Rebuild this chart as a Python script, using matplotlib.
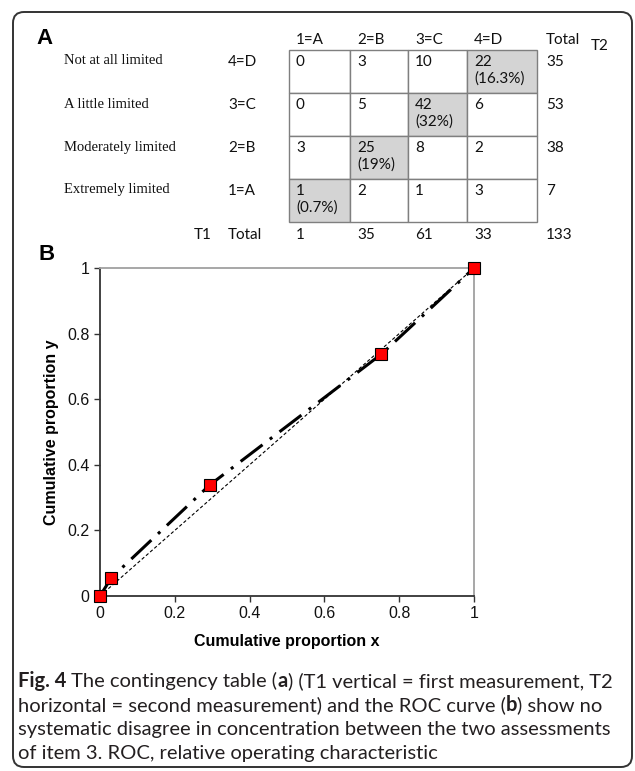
import matplotlib
matplotlib.use("Agg")
import matplotlib.pyplot as plt
from matplotlib.patches import FancyBboxPatch, Rectangle
import numpy as np

# === data ===
row_names = ["Not at all limited", "A little limited", "Moderately limited", "Extremely limited"]
row_codes = ["4=D", "3=C", "2=B", "1=A"]
col_codes = ["1=A", "2=B", "3=C", "4=D"]
counts = [
    [0, 3, 10, 22],
    [0, 5, 42, 6],
    [3, 25, 8, 2],
    [1, 2, 1, 3],
]
# diagonal cells (row, col) -> percentage text
diag_pct = {(0, 3): "(16.3%)", (1, 2): "(32%)", (2, 1): "(19%)", (3, 0): "(0.7%)"}
row_totals = [35, 53, 38, 7]
col_totals = [1, 35, 61, 33]
grand_total = 133

roc_x = [0.0, 0.03, 0.293, 0.752, 1.0]
roc_y = [0.0, 0.055, 0.338, 0.737, 1.0]
ticks = [0, 0.2, 0.4, 0.6, 0.8, 1]
tick_labels = ["0", "0.2", "0.4", "0.6", "0.8", "1"]

caption = [
    [("Fig. 4", True), (" The contingency table (", False), ("a", True),
     (") (T1 vertical = first measurement, T2", False)],
    [("horizontal = second measurement) and the ROC curve (", False), ("b", True),
     (") show no", False)],
    [("systematic disagree in concentration between the two assessments", False)],
    [("of item 3. ROC, relative operating characteristic", False)],
]

W, H = 635, 771
fig = plt.figure(figsize=(W / 100, H / 100), dpi=100)

# 픽셀 좌표 오버레이 (표, 글자, 테두리)
ov = fig.add_axes([0, 0, 1, 1])
ov.set_xlim(0, W)
ov.set_ylim(H, 0)
ov.axis("off")

ov.add_patch(FancyBboxPatch((13, 12), 619, 755, boxstyle="round,pad=0,rounding_size=11",
                            fill=False, edgecolor="#333333", linewidth=1.4))

ov.text(36, 39, "A", fontsize=16, fontweight="bold", family="Liberation Sans", va="center")
ov.text(38, 255, "B", fontsize=16, fontweight="bold", family="Liberation Sans", va="center")

# --- 표 ---
col_edges = [289, 350, 408, 467, 537]
row_edges = [50, 93, 136, 179, 222]
num_font = dict(family="Lato", fontsize=11, color="#111111", va="center")
serif_font = dict(family="Liberation Serif", fontsize=10.5, color="#111111", va="center")

for j, lab in enumerate(col_codes):
    ov.text(col_edges[j] + 7, 40, lab, **num_font)
ov.text(546, 40, "Total", **num_font)
ov.text(591, 46, "T2", **num_font)

for i in range(4):
    top, bot = row_edges[i], row_edges[i + 1]
    ov.text(64, top + 11, row_names[i], **serif_font)
    ov.text(228, top + 12, row_codes[i], **num_font)
    for j in range(4):
        left, right = col_edges[j], col_edges[j + 1]
        pct = diag_pct.get((i, j))
        ov.add_patch(Rectangle((left, top), right - left, bot - top,
                               facecolor="#d4d4d4" if pct else "white",
                               edgecolor="#7f7f7f", linewidth=1.0))
        ov.text(left + 7, top + 12, str(counts[i][j]), **num_font)
        if pct:
            ov.text(left + 7, top + 29, pct, **num_font)
    ov.text(546, top + 12, str(row_totals[i]), **num_font)

ov.text(194, 235, "T1", **num_font)
ov.text(228, 235, "Total", **num_font)
for j, v in enumerate(col_totals):
    ov.text(col_edges[j] + 7, 235, str(v), **num_font)
ov.text(546, 235, str(grand_total), **num_font)

# --- ROC ---
ax_l, ax_r, ax_t, ax_b = 100, 474, 268, 596
ax = fig.add_axes([ax_l / W, 1 - ax_b / H, (ax_r - ax_l) / W, (ax_b - ax_t) / H])
ax.plot([0, 1], [0, 1], color="black", linewidth=0.8, linestyle=(0, (3, 2)), zorder=2)
ax.plot(roc_x, roc_y, color="black", linewidth=2.2, linestyle=(0, (9, 3, 1, 3)), zorder=3)
ax.plot(roc_x, roc_y, linestyle="none", marker="s", markersize=8.5,
        markerfacecolor="red", markeredgecolor="black", markeredgewidth=0.8, zorder=4,
        clip_on=False)
ax.set_xlim(0, 1)
ax.set_ylim(0, 1)
ax.set_xticks(ticks)
ax.set_xticklabels(tick_labels)
ax.set_yticks(ticks)
ax.set_yticklabels(tick_labels)
for side in ["top", "right"]:
    ax.spines[side].set_color("#a0a0a0")
    ax.spines[side].set_linewidth(1.3)
for side in ["left", "bottom"]:
    ax.spines[side].set_color("#333333")
    ax.spines[side].set_linewidth(1.3)
ax.tick_params(direction="out", length=4, width=1, color="#333333",
               labelsize=11.5, labelcolor="#111111")
for lab in ax.get_xticklabels() + ax.get_yticklabels():
    lab.set_family("Liberation Sans")
ax.set_xlabel("Cumulative proportion x", fontsize=11.5, fontweight="bold",
              family="Liberation Sans", labelpad=9)
ax.set_ylabel("Cumulative proportion y", fontsize=11.5, fontweight="bold",
              family="Liberation Sans", labelpad=6)

# --- 캡션 (굵은 글씨 섞어서) ---
fig.canvas.draw()
renderer = fig.canvas.get_renderer()
cap_y = [681, 705, 729, 753]
for line, y in zip(caption, cap_y):
    x = 18
    for txt, bold in line:
        t = ov.text(x, y, txt, family="Lato", fontsize=14.5, color="#231f20",
                    fontweight="bold" if bold else "normal", va="center")
        bb = t.get_window_extent(renderer=renderer)
        x += bb.width  # 1 px == 1 data unit

fig.savefig("out.png", dpi=100)
